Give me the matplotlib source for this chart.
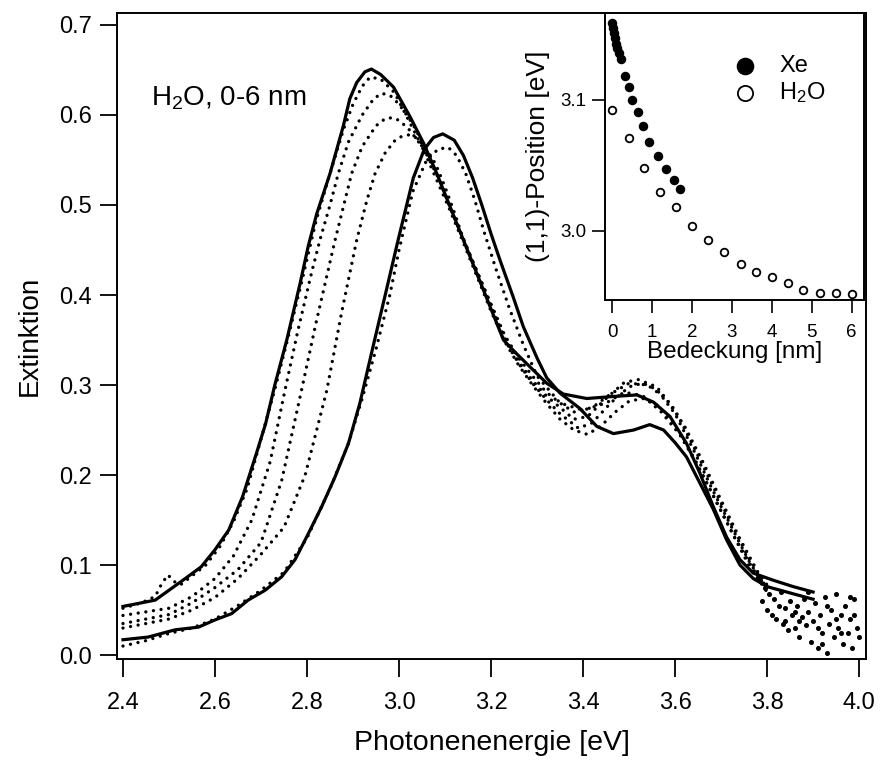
import numpy as np
import matplotlib
matplotlib.use('Agg')
import matplotlib.pyplot as plt

plt.rcParams['font.family'] = ['Liberation Sans', 'DejaVu Sans']
plt.rcParams['mathtext.fontset'] = 'custom'
plt.rcParams['mathtext.rm'] = 'Liberation Sans'
plt.rcParams['mathtext.it'] = 'Liberation Sans'

# solid spectra (first and last coverage)
s1_x = [2.40, 2.43, 2.47, 2.50, 2.53, 2.57, 2.60, 2.63, 2.66, 2.69,
        2.71, 2.73, 2.756, 2.785, 2.803, 2.821, 2.85, 2.879, 2.893, 2.908,
        2.926, 2.94, 2.96, 2.988, 3.024, 3.053, 3.082, 3.111, 3.14, 3.169,
        3.198, 3.227, 3.255, 3.285, 3.321, 3.357, 3.408, 3.459, 3.517, 3.553,
        3.589, 3.625, 3.654, 3.683, 3.712, 3.741, 3.77, 3.814, 3.857, 3.90]
s1_y = [0.054, 0.057, 0.061, 0.072, 0.083, 0.098, 0.117, 0.139, 0.176, 0.224,
        0.257, 0.300, 0.350, 0.413, 0.455, 0.490, 0.535, 0.588, 0.618, 0.636,
        0.648, 0.651, 0.645, 0.631, 0.598, 0.569, 0.535, 0.498, 0.461, 0.424,
        0.387, 0.350, 0.335, 0.320, 0.302, 0.290, 0.285, 0.287, 0.289, 0.281,
        0.265, 0.235, 0.202, 0.165, 0.131, 0.106, 0.091, 0.083, 0.076, 0.070]

s2_x = [2.40, 2.455, 2.513, 2.564, 2.60, 2.636, 2.672, 2.709, 2.745, 2.774,
        2.803, 2.832, 2.861, 2.89, 2.915, 2.94, 2.97, 2.998, 3.031, 3.055,
        3.075, 3.095, 3.12, 3.14, 3.16, 3.18, 3.20, 3.22, 3.248, 3.27,
        3.30, 3.321, 3.35, 3.393, 3.43, 3.466, 3.51, 3.545, 3.575, 3.60,
        3.625, 3.645, 3.683, 3.712, 3.741, 3.77, 3.80, 3.857, 3.90]
s2_y = [0.017, 0.020, 0.028, 0.031, 0.039, 0.046, 0.061, 0.072, 0.087, 0.106,
        0.135, 0.165, 0.198, 0.235, 0.280, 0.335, 0.400, 0.461, 0.530, 0.562,
        0.575, 0.579, 0.572, 0.555, 0.530, 0.500, 0.468, 0.438, 0.398, 0.365,
        0.330, 0.308, 0.291, 0.274, 0.254, 0.246, 0.250, 0.256, 0.250, 0.236,
        0.220, 0.200, 0.162, 0.128, 0.100, 0.085, 0.076, 0.068, 0.062]

# dotted spectra (intermediate coverages)
dA_x = [2.40, 2.44, 2.47, 2.485, 2.498, 2.51, 2.525, 2.55, 2.58, 2.61,
        2.64, 2.67, 2.70, 2.73, 2.76, 2.79, 2.82, 2.85, 2.88, 2.90,
        2.92, 2.937, 2.96, 2.99, 3.02, 3.05, 3.08, 3.11, 3.14, 3.17,
        3.20, 3.23, 3.26, 3.29, 3.32, 3.35, 3.38, 3.41, 3.44, 3.47,
        3.50, 3.53, 3.56, 3.60, 3.64, 3.68, 3.72, 3.76, 3.80]
dA_y = [0.052, 0.058, 0.065, 0.080, 0.089, 0.082, 0.078, 0.088, 0.100, 0.120,
        0.148, 0.185, 0.240, 0.295, 0.355, 0.418, 0.483, 0.535, 0.585, 0.612,
        0.632, 0.642, 0.640, 0.625, 0.595, 0.565, 0.530, 0.495, 0.458, 0.420,
        0.382, 0.348, 0.322, 0.300, 0.280, 0.262, 0.250, 0.245, 0.255, 0.270,
        0.282, 0.285, 0.278, 0.255, 0.220, 0.180, 0.140, 0.100, 0.070]

dB_x = [2.40, 2.45, 2.50, 2.55, 2.60, 2.64, 2.68, 2.72, 2.752, 2.78,
        2.81, 2.828, 2.85, 2.868, 2.89, 2.92, 2.945, 2.962, 2.98, 3.00,
        3.03, 3.06, 3.09, 3.115, 3.14, 3.17, 3.20, 3.23, 3.26, 3.29,
        3.32, 3.35, 3.39, 3.42, 3.46, 3.50, 3.53, 3.56, 3.60, 3.64,
        3.68, 3.72, 3.76, 3.80]
dB_y = [0.044, 0.048, 0.052, 0.065, 0.085, 0.110, 0.150, 0.215, 0.294, 0.360,
        0.425, 0.461, 0.500, 0.535, 0.570, 0.600, 0.618, 0.624, 0.622, 0.612,
        0.590, 0.560, 0.525, 0.492, 0.462, 0.424, 0.386, 0.350, 0.324, 0.302,
        0.284, 0.268, 0.252, 0.258, 0.280, 0.298, 0.302, 0.295, 0.268, 0.228,
        0.185, 0.145, 0.105, 0.072]

dC_x = [2.40, 2.45, 2.50, 2.55, 2.60, 2.65, 2.70, 2.745, 2.788, 2.82,
        2.861, 2.88, 2.897, 2.92, 2.95, 2.97, 2.986, 3.00, 3.02, 3.04,
        3.06, 3.09, 3.115, 3.14, 3.17, 3.20, 3.23, 3.26, 3.29, 3.32,
        3.35, 3.38, 3.41, 3.45, 3.49, 3.52, 3.56, 3.60, 3.64, 3.68,
        3.72, 3.76, 3.80]
dC_y = [0.035, 0.040, 0.045, 0.058, 0.075, 0.095, 0.125, 0.194, 0.294, 0.370,
        0.461, 0.500, 0.535, 0.565, 0.588, 0.596, 0.597, 0.594, 0.585, 0.572,
        0.556, 0.526, 0.494, 0.462, 0.425, 0.388, 0.352, 0.326, 0.305, 0.288,
        0.275, 0.262, 0.265, 0.285, 0.303, 0.306, 0.298, 0.272, 0.232, 0.190,
        0.148, 0.108, 0.075]

dD_x = [2.40, 2.45, 2.50, 2.55, 2.60, 2.65, 2.70, 2.75, 2.796, 2.843,
        2.875, 2.908, 2.93, 2.948, 2.97, 2.99, 3.005, 3.022, 3.04, 3.06,
        3.08, 3.10, 3.12, 3.14, 3.17, 3.20, 3.23, 3.26, 3.29, 3.32,
        3.35, 3.38, 3.42, 3.46, 3.50, 3.54, 3.58, 3.62, 3.66, 3.70,
        3.74, 3.78, 3.80]
dD_y = [0.030, 0.035, 0.040, 0.050, 0.064, 0.085, 0.112, 0.142, 0.200, 0.294,
        0.380, 0.461, 0.505, 0.535, 0.558, 0.571, 0.576, 0.578, 0.574, 0.562,
        0.545, 0.520, 0.492, 0.462, 0.426, 0.390, 0.355, 0.330, 0.310, 0.292,
        0.280, 0.270, 0.275, 0.290, 0.302, 0.300, 0.285, 0.255, 0.215, 0.172,
        0.130, 0.092, 0.078]

dE_x = [2.40, 2.45, 2.50, 2.55, 2.60, 2.65, 2.70, 2.75, 2.80, 2.85,
        2.89, 2.92, 2.95, 2.98, 3.00, 3.03, 3.06, 3.085, 3.107, 3.125,
        3.145, 3.165, 3.185, 3.21, 3.24, 3.27, 3.30, 3.35, 3.40, 3.45,
        3.49, 3.53, 3.57, 3.61, 3.65, 3.69, 3.73, 3.77, 3.80]
dE_y = [0.010, 0.016, 0.024, 0.030, 0.040, 0.055, 0.072, 0.092, 0.130, 0.185,
        0.235, 0.285, 0.340, 0.400, 0.450, 0.515, 0.550, 0.562, 0.564, 0.555,
        0.535, 0.505, 0.470, 0.430, 0.385, 0.345, 0.310, 0.280, 0.272, 0.280,
        0.292, 0.288, 0.270, 0.245, 0.210, 0.170, 0.130, 0.095, 0.075]

# noisy high energy tail of the dotted spectra
tail_x = [3.78, 3.79, 3.795, 3.80, 3.805, 3.81, 3.815, 3.82, 3.825, 3.83,
          3.835, 3.84, 3.845, 3.85, 3.855, 3.86, 3.865, 3.87, 3.875, 3.88,
          3.885, 3.89, 3.895, 3.90, 3.905, 3.91, 3.915, 3.92, 3.925, 3.93,
          3.935, 3.94, 3.945, 3.95, 3.955, 3.96, 3.965, 3.97, 3.975, 3.98,
          3.985, 3.99, 3.995, 4.00, 3.86, 3.89, 3.92, 3.95, 3.98, 3.87,
          3.93, 3.96, 3.99, 3.84, 3.91]
tail_y = [0.085, 0.060, 0.075, 0.050, 0.068, 0.045, 0.062, 0.040, 0.055, 0.070,
          0.035, 0.052, 0.028, 0.060, 0.045, 0.030, 0.055, 0.020, 0.042, 0.062,
          0.033, 0.048, 0.015, 0.038, 0.058, 0.008, 0.044, 0.025, 0.065, 0.002,
          0.035, 0.050, 0.020, 0.068, 0.030, 0.045, 0.012, 0.055, 0.025, 0.040,
          0.008, 0.062, 0.030, 0.020, 0.048, 0.070, 0.012, 0.040, 0.065, 0.038,
          0.055, 0.025, 0.045, 0.038, 0.030]

# inset: (1,1)-position vs coverage
xe_cov = [0.01, 0.03, 0.05, 0.08, 0.10, 0.13, 0.18, 0.22, 0.33, 0.43,
          0.51, 0.64, 0.77, 0.93, 1.14, 1.35, 1.56, 1.71]
xe_pos = [3.159, 3.155, 3.151, 3.147, 3.143, 3.140, 3.136, 3.131, 3.118, 3.110,
          3.100, 3.091, 3.080, 3.068, 3.057, 3.047, 3.039, 3.032]
h2o_cov = [0.0, 0.43, 0.81, 1.21, 1.61, 2.0, 2.40, 2.81, 3.22, 3.61,
           4.01, 4.40, 4.78, 5.20, 5.60, 6.0]
h2o_pos = [3.092, 3.071, 3.048, 3.030, 3.018, 3.004, 2.993, 2.984, 2.975, 2.969,
           2.965, 2.960, 2.955, 2.953, 2.953, 2.952]

fig = plt.figure(figsize=(8.8, 7.6), dpi=100)
ax = fig.add_axes([117 / 880, 1 - 659 / 760, 749 / 880, 646 / 760])

dot_style = dict(color='black', linewidth=2.4, linestyle=(0, (0.01, 2.3)),
                 dash_capstyle='round')
for xs, ys in [(dA_x, dA_y), (dB_x, dB_y), (dC_x, dC_y), (dD_x, dD_y), (dE_x, dE_y)]:
    ax.plot(xs, ys, **dot_style)
ax.plot(tail_x, tail_y, 'o', color='black', markersize=2.6, linestyle='none')
ax.plot(s1_x, s1_y, color='black', linewidth=2.3)
ax.plot(s2_x, s2_y, color='black', linewidth=2.3)

ax.set_xlim(2.387, 4.015)
ax.set_ylim(-0.0044, 0.7133)
ax.set_xticks(np.arange(2.4, 4.01, 0.2))
ax.set_xticklabels(['%.1f' % v for v in np.arange(2.4, 4.01, 0.2)])
ax.set_yticks(np.arange(0.0, 0.71, 0.1))
ax.set_yticklabels(['%.1f' % v for v in np.arange(0.0, 0.71, 0.1)])
ax.tick_params(axis='y', direction='out', length=12, width=1.3, labelsize=17, pad=6)
ax.tick_params(axis='x', direction='out', length=13, width=1.3, labelsize=17, pad=11)
for sp in ax.spines.values():
    sp.set_linewidth(1.4)
ax.set_xlabel('Photonenenergie [eV]', fontsize=20.5, labelpad=11)
ax.set_ylabel('Extinktion', fontsize=20, labelpad=12)
ax.text(2.46, 0.619, 'H$_2$O, 0-6 nm', fontsize=20, ha='left', va='center')

# inset
axi = fig.add_axes([605 / 880, 1 - 300 / 760, 259 / 880, 287 / 760])
axi.scatter(xe_cov, xe_pos, s=34, color='black', label='Xe', zorder=3)
axi.scatter(h2o_cov, h2o_pos, s=30, facecolor='white', edgecolor='black',
            linewidth=1.3, label='H$_2$O', zorder=3)
axi.set_xlim(-0.176, 6.31)
axi.set_ylim(2.9473, 3.1664)
axi.set_xticks(range(0, 7))
axi.set_yticks([3.0, 3.1])
axi.set_yticklabels(['3.0', '3.1'])
axi.tick_params(axis='both', direction='out', length=9.5, width=1.2, labelsize=13.5)
axi.tick_params(axis='x', pad=8)
axi.tick_params(axis='y', pad=4)
for sp in axi.spines.values():
    sp.set_linewidth(1.4)
axi.set_xlabel('Bedeckung [nm]', fontsize=17.5, labelpad=0)
axi.set_ylabel('(1,1)-Position [eV]', fontsize=19, labelpad=7)
axi.legend(loc='upper left', bbox_to_anchor=(0.494, 0.854), frameon=False,
           fontsize=17, markerscale=2.0, handlelength=1.0, handletextpad=0.95,
           borderpad=0, borderaxespad=0, labelspacing=0.15)

fig.savefig('out.png', dpi=100)
